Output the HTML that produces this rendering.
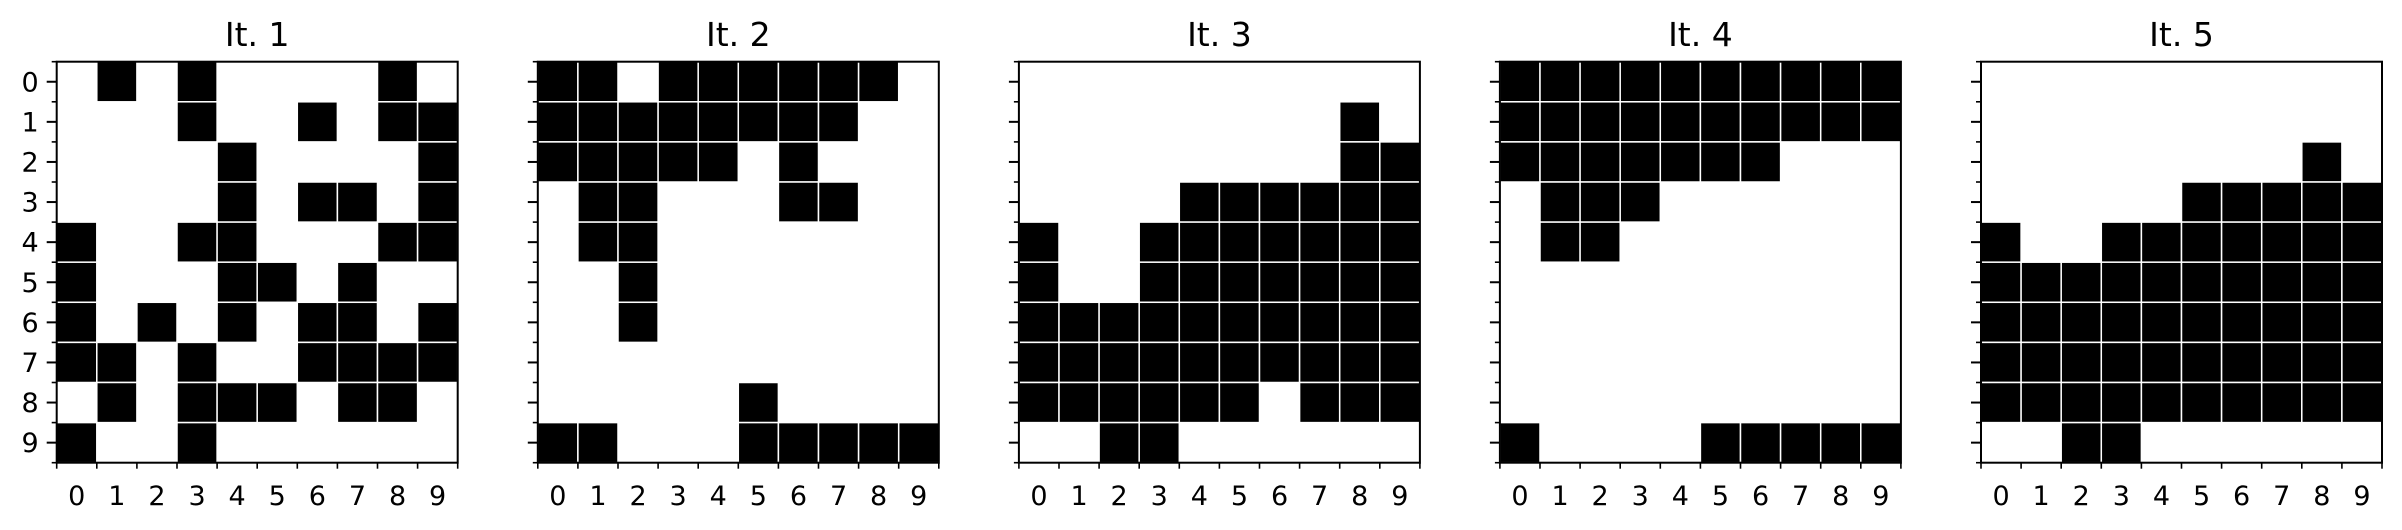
<!DOCTYPE html>
<html><head><meta charset="utf-8">
<style>
html,body{margin:0;padding:0;background:#fff;}
svg{display:block;font-family:"DejaVu Sans","Liberation Sans",sans-serif;}
</style></head>
<body>
<svg id="chart" width="2402" height="530" viewBox="0 0 2402 530" xmlns="http://www.w3.org/2000/svg"></svg>
<script>
const titles = ["It. 1","It. 2","It. 3","It. 4","It. 5"];
const tickLabels = ["0","1","2","3","4","5","6","7","8","9"];
const grid1 = ["0101000010","0001001011","0000100001","0000101101","1001100011","1000110100","1010101101","1101001111","0101110110","1001000000"];
const grid2 = ["1101111110","1111111100","1111101000","0110001100","0110000000","0010000000","0010000000","0000000000","0000010000","1100011111"];
const grid3 = ["0000000000","0000000010","0000000011","0000111111","1001111111","1001111111","1111111111","1111111111","1111110111","0011000000"];
const grid4 = ["1111111111","1111111111","1111111000","0111000000","0110000000","0000000000","0000000000","0000000000","0000000000","1000011111"];
const grid5 = ["0000000000","0000000000","0000000010","0000011111","1001111111","1111111111","1111111111","1111111111","1111111111","0011000000"];
const grids = [grid1, grid2, grid3, grid4, grid5];

const NS = "http://www.w3.org/2000/svg";
const svg = document.getElementById("chart");
const top0 = 61.7, size = 401, n = 10, cell = size / n;
const lefts = [56.7, 537.8, 1018.9, 1499.9, 1981];
function mk(tag, attrs, parent) {
  const e = document.createElementNS(NS, tag);
  for (const k in attrs) e.setAttribute(k, attrs[k]);
  parent.appendChild(e);
  return e;
}
grids.forEach((g, p) => {
  const L = lefts[p];
  const xs = c => L + c * cell;
  const ys = r => top0 + r * cell;
  const grp = mk("g", {}, svg);
  
  
  const title = mk("text", {x: L + size / 2, y: 46, "font-size": 33, "text-anchor": "middle", fill: "#000"}, grp);
  title.textContent = titles[p];
  
  
  g.forEach((row, r) => {
    for (let c = 0; c < n; c++) {
      if (row[c] === "1") {
        const rc = mk("rect", {x: xs(c), y: ys(r), width: cell, height: cell, fill: "#000", stroke: "#fff", "stroke-width": 1.5}, grp);
        
        
      }
    }
  });
  const frame = mk("rect", {x: L, y: top0, width: size, height: size, fill: "none", stroke: "#000", "stroke-width": 2}, grp);
  
  
  for (let i = 0; i < n; i++) {
    const y = ys(i) + cell / 2;
    const t = mk("line", {x1: L - 10, x2: L, y1: y, y2: y, stroke: "#000", "stroke-width": 2}, grp);
    
    
    if (p === 0) {
      const lb = mk("text", {x: L - 18, y: y + 9.5, "font-size": 27, "text-anchor": "end", fill: "#000"}, grp);
      lb.textContent = tickLabels[i];
      
      
    }
  }
  for (let i = 0; i <= n; i++) {
    const y = ys(i);
    const t = mk("line", {x1: L - 5, x2: L, y1: y, y2: y, stroke: "#000", "stroke-width": 1.6}, grp);
    
    
  }
  for (let i = 0; i <= n; i++) {
    const x = xs(i);
    const t = mk("line", {x1: x, x2: x, y1: top0 + size, y2: top0 + size + 6, stroke: "#000", "stroke-width": 1.6}, grp);
    
    
  }
  for (let i = 0; i < n; i++) {
    const lb = mk("text", {x: xs(i) + cell / 2, y: 505, "font-size": 27, "text-anchor": "middle", fill: "#000"}, grp);
    lb.textContent = tickLabels[i];
    
    
  }
});
</script>
</body></html>
